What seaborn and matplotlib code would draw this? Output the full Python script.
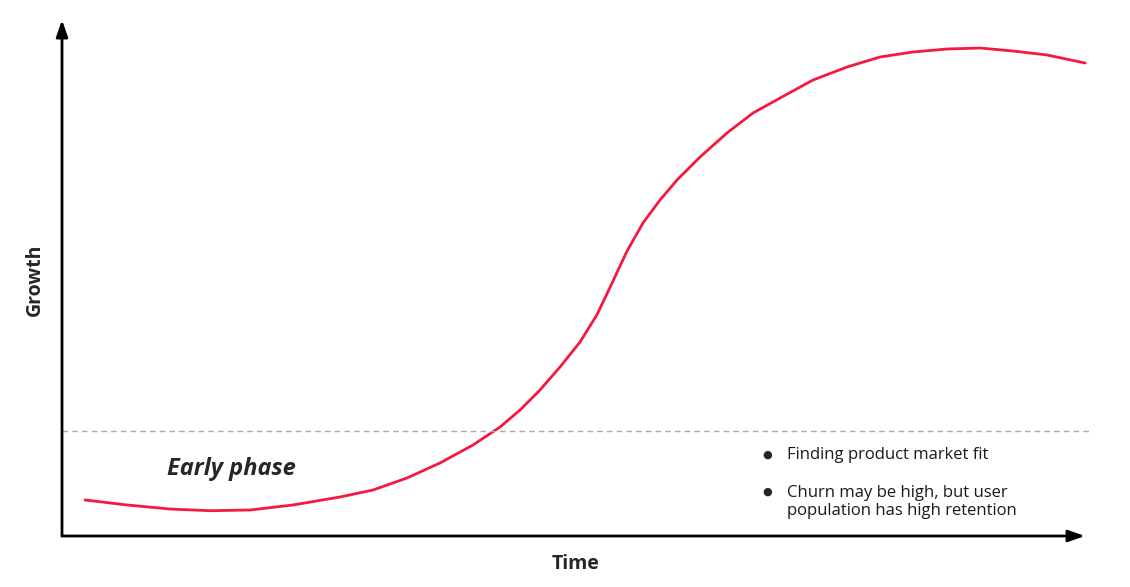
import numpy as np
import pandas as pd
import matplotlib.pyplot as plt
import seaborn as sns

# curve (time 0-100, growth 0-100)
time = [2.25, 6.35, 10.56, 14.47, 18.38, 22.58, 27.18, 30.40, 33.72, 36.95,
        40.18, 42.82, 44.77, 46.72, 48.68, 50.64, 52.30, 53.67, 55.23, 56.79,
        58.46, 60.12, 62.37, 65.0, 67.55, 70.19, 73.41, 76.74, 79.96, 83.19,
        86.51, 89.74, 92.96, 96.29, 100.0]
growth = [6.98, 6.01, 5.23, 4.90, 5.04, 6.01, 7.56, 8.91, 11.24, 14.15,
          17.64, 21.12, 24.42, 28.29, 32.75, 37.60, 42.90, 48.60, 55.20, 60.66,
          65.12, 69.0, 73.45, 78.10, 81.98, 84.88, 88.37, 90.89, 92.83, 93.80,
          94.38, 94.57, 93.99, 93.22, 91.67]
threshold = 20.3
bullets = ["Finding product market fit",
           "Churn may be high, but user\npopulation has high retention"]

df = pd.DataFrame({"Time": time, "Growth": growth})

sns.set_style("white")
plt.rcParams["font.family"] = ["Open Sans", "DejaVu Sans"]

fig = plt.figure(figsize=(11.3, 5.87), dpi=100)
ax = fig.add_axes([62 / 1130, 51 / 587, 1023 / 1130, 516 / 587])

sns.lineplot(data=df, x="Time", y="Growth", ax=ax, color="#f5183f",
             linewidth=2.0, clip_on=False)
ax.lines[0].set_solid_joinstyle("round")
ax.lines[0].set_solid_capstyle("round")
ax.axhline(threshold, xmin=0, xmax=1.005, color="#aaaaaa", linestyle=(0, (4, 3)),
           linewidth=1.0, clip_on=False)

ax.set_xlim(0, 100)
ax.set_ylim(0, 100)
ax.set_xticks([])
ax.set_yticks([])
sns.despine(ax=ax, left=True, bottom=True)
ax.set_xlabel("")
ax.set_ylabel("")

# axis arrows
arrow = dict(arrowstyle="-|>,head_length=1.0,head_width=0.35", color="black",
             linewidth=2.0, shrinkA=0, shrinkB=0)
ax.annotate("", xy=(1, 0), xytext=(0, 0), xycoords="axes fraction",
            arrowprops=arrow, annotation_clip=False)
ax.annotate("", xy=(0, 1), xytext=(0, 0), xycoords="axes fraction",
            arrowprops=arrow, annotation_clip=False)

fig.text(576 / 1130, 1 - 564 / 587, "Time", ha="center", va="center",
         fontsize=14, fontweight="bold")
fig.text(35 / 1130, 1 - 280 / 587, "Growth", ha="center", va="center",
         fontsize=14, fontweight="bold", rotation=90)

ax.text(10.3, 13.0, "Early phase", ha="left", va="center", fontsize=17,
        fontweight="bold", fontstyle="italic")

for yv, dot_y, txt in zip([15.7, 6.6], [15.7, 8.5], bullets):
    ax.text(68.9, dot_y, "\u25CF", ha="center", va="center", fontsize=8,
            family="DejaVu Sans")
    ax.text(70.9, yv, txt, ha="left", va="center", fontsize=12,
            linespacing=1.15, color="#1a1a1a")

fig.savefig("out.png", dpi=100)
